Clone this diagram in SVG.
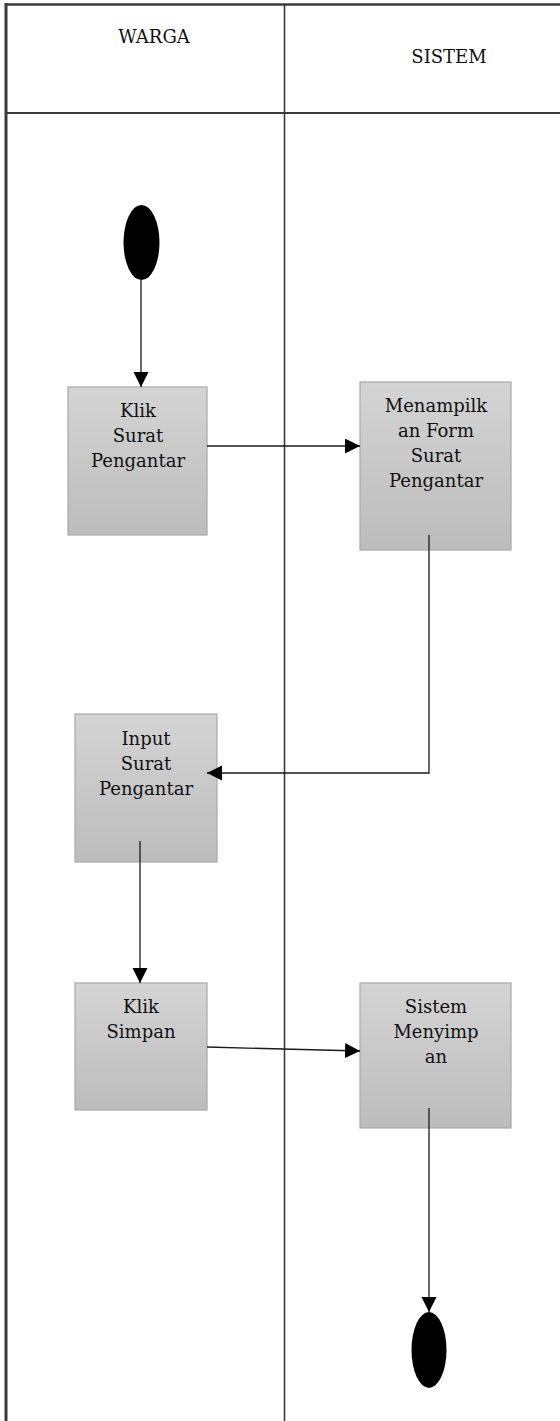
<svg xmlns="http://www.w3.org/2000/svg" width="560" height="1421" viewBox="0 0 560 1421">
<style>
.t{font-family:"DejaVu Serif","Liberation Serif",serif;font-size:18px;fill:#111;text-anchor:middle}
.box{fill:url(#g);stroke:#a8a8a8;stroke-width:1.2}
.c{fill:none;stroke:#1a1a1a;stroke-width:1.3}
.lane{stroke:#3a3a3a;fill:none}
</style>
<defs>
<linearGradient id="g" x1="0" y1="0" x2="0" y2="1">
<stop offset="0" stop-color="#d4d4d4"/>
<stop offset="1" stop-color="#bcbcbc"/>
</linearGradient>
<marker id="ah" markerUnits="userSpaceOnUse" markerWidth="16" markerHeight="16" refX="15" refY="7.5" orient="auto">
<path d="M0,0 L15,7.5 L0,15 z" fill="#000"/>
</marker>
</defs>
<g id="lanes">
<line class="lane" x1="6" y1="3" x2="6" y2="1421" stroke-width="3" stroke="#111"/>
<line class="lane" x1="5" y1="4.5" x2="560" y2="4.5" stroke-width="2.5" stroke="#111"/>
<line class="lane" x1="6" y1="113" x2="560" y2="113" stroke-width="2" stroke="#555"/>
<line class="lane" x1="284.5" y1="4" x2="284.5" y2="1421" stroke-width="1.6"/>
<text class="t" x="154" y="43">WARGA</text>
<text class="t" x="449" y="63">SISTEM</text>
</g>
<g id="start">
<ellipse cx="141.5" cy="242.5" rx="18" ry="37.5" fill="#000"/>
</g>
<g id="klik-surat">
<rect class="box" x="68" y="387" width="139" height="148"/>
<text class="t" x="138" y="417">Klik</text>
<text class="t" x="138" y="442">Surat</text>
<text class="t" x="138" y="467">Pengantar</text>
</g>
<g id="form-surat">
<rect class="box" x="360" y="382" width="151" height="168"/>
<text class="t" x="436" y="412">Menampilk</text>
<text class="t" x="436" y="437">an Form</text>
<text class="t" x="436" y="462">Surat</text>
<text class="t" x="436" y="487">Pengantar</text>
</g>
<g id="input-surat">
<rect class="box" x="75" y="714" width="142" height="148"/>
<text class="t" x="146" y="745">Input</text>
<text class="t" x="146" y="770">Surat</text>
<text class="t" x="146" y="795">Pengantar</text>
</g>
<g id="klik-simpan">
<rect class="box" x="75" y="983" width="132" height="127"/>
<text class="t" x="141" y="1013">Klik</text>
<text class="t" x="141" y="1038">Simpan</text>
</g>
<g id="sistem-menyimpan">
<rect class="box" x="360" y="983" width="151" height="145"/>
<text class="t" x="436" y="1013">Sistem</text>
<text class="t" x="436" y="1038">Menyimp</text>
<text class="t" x="436" y="1063">an</text>
</g>
<g id="end">
<ellipse cx="429" cy="1350" rx="17.5" ry="38" fill="#000"/>
</g>
<g id="connectors">
<path class="c" d="M141,280 L141,387" marker-end="url(#ah)"/>
<path class="c" d="M207,446 L360,446" marker-end="url(#ah)"/>
<path class="c" d="M429,535 L429,773 L207,773" marker-end="url(#ah)"/>
<path class="c" d="M140,841 L140,983" marker-end="url(#ah)"/>
<path class="c" d="M207,1047 L360,1051" marker-end="url(#ah)"/>
<path class="c" d="M429,1108 L429,1312" marker-end="url(#ah)"/>
</g>
</svg>
